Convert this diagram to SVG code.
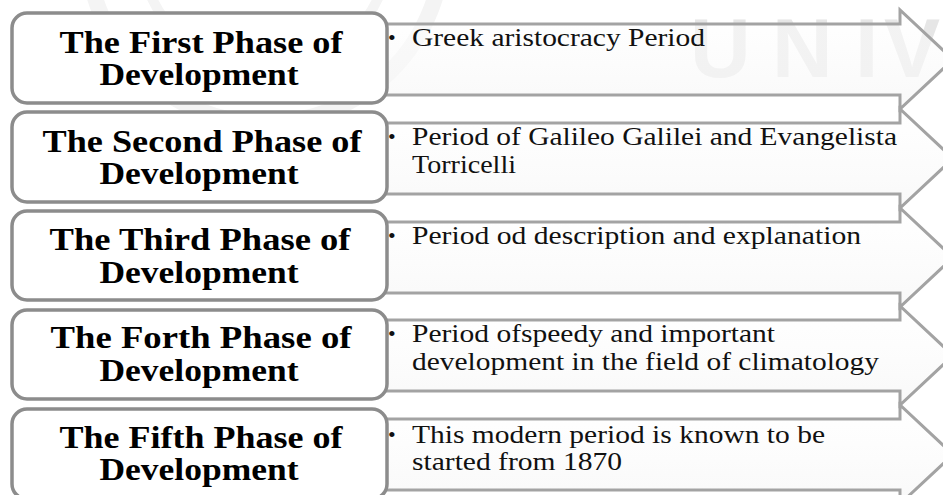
<svg xmlns="http://www.w3.org/2000/svg" width="943" height="495" viewBox="0 0 943 495">
  <defs>
    <linearGradient id="arrowFill" x1="0" y1="0" x2="0" y2="1">
      <stop offset="0" stop-color="#ffffff" stop-opacity="0.5"/>
      <stop offset="1" stop-color="#f6f6f6" stop-opacity="0.7"/>
    </linearGradient>
    <style>
      .wm { fill: #e6e6e6; font-family: "Liberation Sans", Arial, sans-serif; font-weight: bold; font-size: 84px; }
      .ring { fill: none; stroke: #f4f4f4; }
      .arrow { fill: url(#arrowFill); stroke: #a3a3a3; stroke-width: 3; stroke-linejoin: miter; }
      .box { fill: #ffffff; stroke: #8c8c8c; stroke-width: 3.5; }
      .title { font-family: "Times New Roman", "Liberation Serif", Tinos, Times, serif; font-weight: bold; font-size: 31px; fill: #000; text-anchor: middle; }
      .desc { font-family: "Times New Roman", "Liberation Serif", Tinos, Times, serif; font-size: 25px; fill: #111; }
      .bullet { font-family: "Times New Roman", "Liberation Serif", Tinos, Times, serif; font-size: 22px; fill: #111; }
    </style>
  </defs>
  <rect x="0" y="0" width="943" height="495" fill="#ffffff"/>
  <g id="watermark">
    <circle class="ring" cx="265" cy="-55" r="178" stroke-width="16"/>
    <circle class="ring" cx="265" cy="-55" r="125" stroke-width="10"/>
    <text class="wm" x="690" y="77">U</text>
    <text class="wm" x="772" y="77">N</text>
    <text class="wm" x="855" y="77">I</text>
    <text class="wm" x="884" y="77">V</text>
  </g>
  <g id="connectors">
    <path class="arrow" d="M 380 24 H 900 V 10 L 953 59.5 L 900 109 V 95 H 380 Z"/>
    <path class="arrow" d="M 380 123 H 900 V 109 L 953 158.5 L 900 208 V 194 H 380 Z"/>
    <path class="arrow" d="M 380 222 H 900 V 208 L 953 257.5 L 900 307 V 293 H 380 Z"/>
    <path class="arrow" d="M 380 320 H 900 V 306 L 953 355.5 L 900 405 V 391 H 380 Z"/>
    <path class="arrow" d="M 380 419 H 900 V 405 L 953 454.5 L 900 504 V 490 H 380 Z"/>
  </g>
  <g id="phase1">
    <rect class="box" x="12" y="13" width="375" height="90" rx="15"/>
    <text class="title" x="201" y="53" textLength="283" lengthAdjust="spacingAndGlyphs">The First Phase of</text>
    <text class="title" x="199" y="85" textLength="199" lengthAdjust="spacingAndGlyphs">Development</text>
    <text class="bullet" x="388" y="45">•</text>
    <text class="desc" x="412" y="46" textLength="293" lengthAdjust="spacingAndGlyphs">Greek aristocracy Period</text>
  </g>
  <g id="phase2">
    <rect class="box" x="12" y="112" width="375" height="90" rx="15"/>
    <text class="title" x="202" y="152" textLength="319" lengthAdjust="spacingAndGlyphs">The Second Phase of</text>
    <text class="title" x="199" y="184" textLength="199" lengthAdjust="spacingAndGlyphs">Development</text>
    <text class="bullet" x="388" y="144">•</text>
    <text class="desc" x="412" y="145" textLength="485" lengthAdjust="spacingAndGlyphs">Period of Galileo Galilei  and Evangelista</text>
    <text class="desc" x="412" y="173" textLength="104" lengthAdjust="spacingAndGlyphs">Torricelli</text>
  </g>
  <g id="phase3">
    <rect class="box" x="12" y="211" width="375" height="89" rx="15"/>
    <text class="title" x="200" y="250" textLength="301" lengthAdjust="spacingAndGlyphs">The Third Phase of</text>
    <text class="title" x="199" y="283" textLength="199" lengthAdjust="spacingAndGlyphs">Development</text>
    <text class="bullet" x="388" y="243">•</text>
    <text class="desc" x="412" y="244" textLength="449" lengthAdjust="spacingAndGlyphs">Period od description and explanation</text>
  </g>
  <g id="phase4">
    <rect class="box" x="12" y="310" width="375" height="89" rx="15"/>
    <text class="title" x="201" y="348" textLength="301" lengthAdjust="spacingAndGlyphs">The Forth Phase of</text>
    <text class="title" x="199" y="381" textLength="199" lengthAdjust="spacingAndGlyphs">Development</text>
    <text class="bullet" x="388" y="341">•</text>
    <text class="desc" x="412" y="342" textLength="363" lengthAdjust="spacingAndGlyphs">Period ofspeedy and important</text>
    <text class="desc" x="412" y="370" textLength="467" lengthAdjust="spacingAndGlyphs">development in the field of climatology</text>
  </g>
  <g id="phase5">
    <rect class="box" x="12" y="409" width="375" height="90" rx="15"/>
    <text class="title" x="201" y="448" textLength="283" lengthAdjust="spacingAndGlyphs">The Fifth Phase of</text>
    <text class="title" x="199" y="480" textLength="199" lengthAdjust="spacingAndGlyphs">Development</text>
    <text class="bullet" x="388" y="442">•</text>
    <text class="desc" x="412" y="443" textLength="413" lengthAdjust="spacingAndGlyphs">This modern period is known to be</text>
    <text class="desc" x="412" y="470" textLength="210" lengthAdjust="spacingAndGlyphs">started from 1870</text>
  </g>
</svg>
